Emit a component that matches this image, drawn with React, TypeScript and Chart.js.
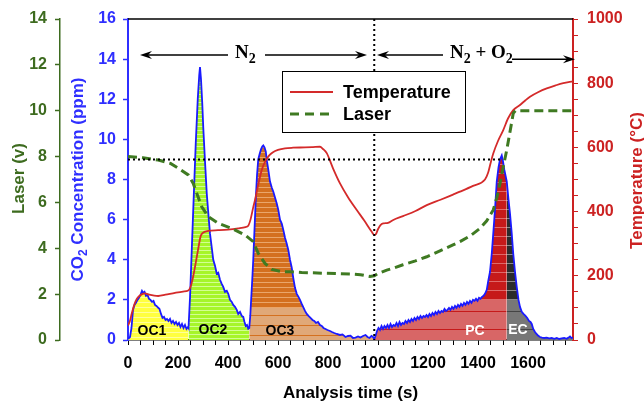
import React, { useEffect, useRef } from 'react';
import { Chart, registerables } from 'chart.js';

Chart.register(...registerables);

// ---------------- data ----------------
const co2Time = [
  0, 8, 14, 20, 26, 32, 38, 44, 50, 56, 61, 66, 72, 78, 84, 90, 96, 102, 108, 114, 120, 126, 132, 138, 144, 150, 156, 162, 168, 174, 180, 186, 192, 198, 204, 210, 216, 222, 228, 234, 240, 242,
  248, 261, 271, 279, 285, 288, 292, 297, 301, 308, 315, 322, 328, 335, 341, 348, 355, 361, 368, 375, 381, 388, 395, 401, 408, 415, 421, 428, 435, 441, 448, 455, 461, 466, 471, 476, 481, 485,
  489, 493, 497, 501, 506, 511, 516, 521, 527, 532, 537, 541, 546, 551, 556, 561, 568, 575, 581, 588, 595, 601, 608, 615, 621, 628, 635, 641, 648, 655, 661, 668, 675, 682, 688, 695, 701, 708, 715, 722, 730, 738, 745, 752, 760, 768, 775, 782, 790, 798, 808, 816, 825, 835, 848, 858, 870, 880, 890, 900, 910, 920, 930, 940, 950, 958, 966, 974, 980, 985,
  990, 996, 1002, 1008, 1014, 1020, 1026, 1032, 1038, 1044, 1050, 1056, 1062, 1068, 1074, 1080, 1086, 1092, 1098, 1104, 1110, 1116, 1122, 1128, 1134, 1140, 1146, 1152, 1158, 1164, 1170, 1176, 1182, 1188, 1194, 1200, 1206, 1212, 1218, 1224, 1230, 1236, 1242, 1248, 1254, 1260, 1266, 1272, 1278, 1284, 1290, 1296, 1302, 1308, 1314, 1320, 1326, 1332, 1338, 1344, 1350, 1356, 1362, 1368, 1374, 1380, 1386, 1392, 1398, 1404, 1410, 1416, 1422, 1428, 1435, 1441, 1448, 1455, 1461, 1468, 1475, 1482, 1488, 1495, 1500, 1505, 1510, 1515,
  1522, 1528, 1535, 1541, 1548, 1555, 1562, 1568, 1575, 1582, 1590, 1597, 1604, 1610, 1615, 1621, 1628, 1634, 1640, 1648, 1656, 1665, 1675, 1685, 1695, 1705, 1715, 1725, 1735, 1745, 1755, 1762, 1768, 1774, 1780,
];
const co2Values = [
  0.05, 0.15, 0.6, 1.5, 1.75, 1.85, 2.0, 2.1, 2.25, 2.45, 2.35, 2.4, 2.2, 2.25, 2.05, 2.0, 1.9, 1.95, 1.75, 1.7, 1.62, 1.55, 1.3, 1.1, 1.15, 1.0, 1.05, 0.95, 1.05, 0.85, 0.95, 0.8, 0.9, 0.75, 0.85, 0.65, 0.8, 0.6, 0.75, 0.55, 0.65, 0.6,
  2.1, 6.5, 9.8, 12.0, 13.2, 13.6, 13.0, 11.8, 10.6, 8.9, 7.3, 6.2, 5.3, 4.6, 4.0, 3.7, 3.3, 3.35, 3.0, 2.8, 2.65, 2.4, 2.45, 2.3, 2.0, 1.9, 1.75, 1.65, 1.5, 1.3, 1.4, 1.2, 1.15, 0.9, 0.7, 0.75, 0.56, 0.6,
  1.2, 2.1, 3.0, 4.0, 5.5, 7.0, 8.2, 9.0, 9.3, 9.5, 9.65, 9.7, 9.6, 9.4, 8.9, 8.5, 7.9, 7.6, 7.4, 7.1, 6.8, 6.5, 6.0, 5.8, 5.5, 5.1, 4.8, 4.5, 4.0, 3.6, 3.1, 2.6, 2.3, 2.15, 2.0, 1.8, 1.64, 1.45, 1.3, 1.2, 1.1, 1.0, 0.95, 0.85, 0.9, 0.75, 0.7, 0.6, 0.55, 0.5, 0.45, 0.4, 0.35, 0.3, 0.25, 0.28, 0.15, 0.2, 0.22, 0.1, 0.12, 0.18, 0.12, 0.2, 0.25, 0.15, 0.1, 0.2, 0.15, 0.05,
  0.2, 0.45, 0.6, 0.5, 0.7, 0.55, 0.7, 0.6, 0.75, 0.6, 0.8, 0.65, 0.75, 0.7, 0.85, 0.7, 0.9, 0.75, 0.85, 0.8, 0.95, 0.85, 1.0, 0.9, 1.05, 0.95, 1.1, 1.0, 1.15, 1.05, 1.2, 1.1, 1.2, 1.15, 1.25, 1.15, 1.3, 1.2, 1.35, 1.25, 1.4, 1.3, 1.45, 1.35, 1.45, 1.4, 1.55, 1.45, 1.5, 1.6, 1.5, 1.65, 1.55, 1.7, 1.6, 1.75, 1.65, 1.8, 1.7, 1.85, 1.75, 1.9, 1.8, 1.95, 1.85, 2.0, 1.95, 2.05, 1.95, 2.1, 2.05, 2.15, 2.2, 2.3, 2.5, 2.95, 3.4, 4.3, 5.3, 6.5, 7.9, 8.6, 9.0, 9.2, 8.9, 8.5, 8.2, 7.9,
  7.0, 6.3, 5.3, 4.3, 3.4, 2.65, 2.0, 1.65, 1.4, 1.3, 1.2, 1.1, 0.95, 0.9, 0.8, 0.55, 0.4, 0.3, 0.22, 0.15, 0.12, 0.1, 0.12, 0.08, 0.1, 0.06, 0.1, 0.05, 0.08, 0.1, 0.06, 0.12, 0.18, 0.1, 0.12,
];

const tempTime = [
  0, 8, 15, 25, 35, 45, 55, 68, 85, 105, 121, 150, 188, 220, 241, 250, 260, 268, 280, 290, 298, 321, 360, 400, 441, 470, 481, 490, 500, 508, 520, 535, 550, 565, 580, 600, 628, 660, 708, 740, 768, 780, 795, 820, 848, 880, 915, 945, 975, 985, 992, 1000, 1010, 1021, 1040, 1061, 1100, 1150, 1195, 1250, 1300, 1328, 1380, 1428, 1440, 1450, 1461, 1480, 1501, 1520, 1541, 1568, 1590, 1608, 1640, 1675, 1710, 1741, 1780,
];
const tempValues = [
  45, 60, 83, 110, 128, 137, 142, 145, 141, 138, 137, 141, 147, 151, 154, 165, 195, 228, 280, 322, 333, 340, 342, 344, 348, 352, 356, 375, 410, 436, 480, 530, 558, 575, 585, 592, 597, 599, 600, 601, 602, 595, 582, 535, 488, 445, 405, 372, 337, 327, 330, 345, 358, 363, 365, 374, 386, 402, 420, 437, 453, 462, 480, 500, 520, 550, 581, 620, 654, 690, 716, 732, 747, 758, 772, 784, 793, 800, 806,
];

const laserTime = [
  0, 60, 121, 170, 201, 241, 261, 275, 295, 321, 361, 415, 468, 501, 521, 548, 575, 615, 648, 695, 740, 781, 830, 888, 930, 968, 985, 1000, 1035, 1061, 1100, 1150, 1195, 1250, 1300, 1328, 1370, 1408, 1435, 1461, 1475, 1488, 1500, 1515, 1530, 1541, 1550, 1780,
];
const laserValues = [
  8.0, 7.95, 7.85, 7.7, 7.49, 7.2, 6.83, 6.4, 5.81, 5.38, 5.09, 4.87, 4.58, 4.29, 3.78, 3.34, 3.08, 2.98, 2.98, 2.94, 2.93, 2.91, 2.9, 2.88, 2.85, 2.77, 2.8, 2.9, 3.05, 3.13, 3.28, 3.45, 3.63, 3.9, 4.15, 4.29, 4.55, 4.87, 5.2, 5.67, 6.2, 6.83, 7.5, 8.29, 9.2, 9.89, 10.0, 10.0,
];

const regionNames = ['OC1', 'OC2', 'OC3', 'PC', 'EC'];
const regionBounds = [0, 242, 485, 985, 1515, 1780];
const regionUpper = ['#ffff40', '#a6f52a', '#d4701f', '#c61a1a', '#2c2c2c'];
const regionUpperStripe = ['#ffff9a', '#d2ff92', '#eaa66a', '#de6a6a', '#8a8a8a'];
const regionLower = ['#ffff40', '#a6f52a', '#e0a878', '#d86666', '#777777'];
const regionLowerStripe = ['#ffff9a', '#d2ff92', '#d4701f', '#c61a1a', '#444444'];
const regionStripePeriod = [5, 4, 5, 9, 9];
const regionSplit = [0, 0, 1.6, 2.0, 2.0];
const regionLabelX = [96, 340, 608, 1388, 1560];
const regionLabelY = [0.45, 0.5, 0.45, 0.45, 0.5];
const regionLabelColor = ['#000', '#000', '#000', '#fff', '#fff'];

const seriesLabels = ['Temperature', 'Laser', 'CO2'];
const xTitle = 'Analysis time (s)';
const laserTitle = 'Laser (v)';
const tempTitle = 'Temperature (°C)';

const refCO2Level = 9;
const refLineEnd = 1495;
const switchTime = 985;

// gas annotations (data units: x = time, y = CO2 ppm)
const arrowFrom = [400, 548, 1260, 1536];
const arrowTo = [48, 956, 996, 1788];
const arrowY = [14.2, 14.2, 14.2, 14.0];
const gasLabelX = [428, 1288];
const gasLabelY = [14.05, 14.05];
const gasLabelParts = [
  [['N', false], ['2', true]],
  [['N', false], ['2', true], [' + O', false], ['2', true]],
];

const GREEN = '#3d6b1f';
const BLUE = '#2f2fff';
const RED = '#cc2222';
const SANS = "'Liberation Sans', Arial, Helvetica, sans-serif";
const SERIF = "'Liberation Serif', 'Times New Roman', serif";

function pts(t: number[], v: number[]) {
  return t.map((x, i) => ({ x, y: v[i] }));
}

const patternCache: Record<string, CanvasPattern> = {};

function regionFill(i: number) {
  return (c: any) => {
    const chart = c.chart;
    const area = chart.chartArea;
    if (!area || !chart.scales.yCO2) return regionUpper[i];
    const ySplit = Math.round(chart.scales.yCO2.getPixelForValue(regionSplit[i]));
    const key = `${i}-${ySplit}-${chart.height}`;
    if (patternCache[key]) return patternCache[key];
    const pc = document.createElement('canvas');
    pc.width = 4;
    pc.height = chart.height;
    const g = pc.getContext('2d') as CanvasRenderingContext2D;
    const per = regionStripePeriod[i];
    for (let y = 0; y < pc.height; y++) {
      const upper = y < ySplit;
      const stripe = upper ? y % per === 2 : y % (per * 2) === 5;
      g.fillStyle = upper ? (stripe ? regionUpperStripe[i] : regionUpper[i]) : (stripe ? regionLowerStripe[i] : regionLower[i]);
      g.fillRect(0, y, 4, 1);
    }
    const p = chart.ctx.createPattern(pc, 'repeat') as CanvasPattern;
    patternCache[key] = p;
    return p;
  };
}

function drawRotated(ctx: CanvasRenderingContext2D, parts: any[], baseX: number, cy: number, color: string, size: number, subSize: number) {
  ctx.save();
  ctx.translate(baseX, cy);
  ctx.rotate(-Math.PI / 2);
  ctx.fillStyle = color;
  ctx.textBaseline = 'alphabetic';
  ctx.textAlign = 'left';
  let w = 0;
  parts.forEach(([t, sub]) => {
    ctx.font = `bold ${sub ? subSize : size}px ${SANS}`;
    w += ctx.measureText(t).width;
  });
  let x = -w / 2;
  parts.forEach(([t, sub]) => {
    ctx.font = `bold ${sub ? subSize : size}px ${SANS}`;
    ctx.fillText(t, x, sub ? 4 : 0);
    x += ctx.measureText(t).width;
  });
  ctx.restore();
}

function arrowHead(ctx: CanvasRenderingContext2D, x: number, y: number, dir: number) {
  ctx.beginPath();
  ctx.moveTo(x, y);
  ctx.lineTo(x - dir * 12, y - 4);
  ctx.lineTo(x - dir * 8, y);
  ctx.lineTo(x - dir * 12, y + 4);
  ctx.closePath();
  ctx.fill();
}

const overlay = {
  id: 'overlay',
  afterDraw(chart: any) {
    const { ctx, chartArea: a, scales } = chart;
    const xs = scales.x;
    const ys = scales.yCO2;
    ctx.save();

    // region labels
    ctx.font = `bold 14px ${SANS}`;
    ctx.textAlign = 'center';
    ctx.textBaseline = 'middle';
    regionNames.forEach((n, i) => {
      ctx.fillStyle = regionLabelColor[i];
      ctx.fillText(n, xs.getPixelForValue(regionLabelX[i]), ys.getPixelForValue(regionLabelY[i]));
    });

    // dotted guide lines
    ctx.strokeStyle = '#000';
    ctx.lineWidth = 2;
    ctx.setLineDash([2, 3]);
    ctx.beginPath();
    const yRef = ys.getPixelForValue(refCO2Level);
    ctx.moveTo(a.left, yRef);
    ctx.lineTo(xs.getPixelForValue(refLineEnd), yRef);
    const xSw = xs.getPixelForValue(switchTime);
    ctx.moveTo(xSw, a.top);
    ctx.lineTo(xSw, a.bottom);
    ctx.stroke();
    ctx.setLineDash([]);

    // top frame
    ctx.lineWidth = 1.5;
    ctx.beginPath();
    ctx.moveTo(a.left, a.top);
    ctx.lineTo(a.right, a.top);
    ctx.stroke();

    // arrows
    ctx.fillStyle = '#000';
    ctx.lineWidth = 1.5;
    arrowFrom.forEach((f, i) => {
      const x1 = xs.getPixelForValue(f);
      const x2 = xs.getPixelForValue(arrowTo[i]);
      const y = ys.getPixelForValue(arrowY[i]);
      const dir = x2 > x1 ? 1 : -1;
      ctx.beginPath();
      ctx.moveTo(x1, y);
      ctx.lineTo(x2 - dir * 8, y);
      ctx.stroke();
      arrowHead(ctx, x2, y, dir);
    });

    // gas labels
    ctx.textAlign = 'left';
    ctx.textBaseline = 'alphabetic';
    gasLabelParts.forEach((parts, i) => {
      let x = xs.getPixelForValue(gasLabelX[i]);
      const y = ys.getPixelForValue(gasLabelY[i]);
      parts.forEach(([t, sub]: any) => {
        ctx.font = `bold ${sub ? 14 : 19}px ${SERIF}`;
        ctx.fillText(t, x, sub ? y + 5 : y);
        x += ctx.measureText(t).width;
      });
    });

    // legend
    const lx = a.left + 154;
    const ly = a.top + 52;
    ctx.fillStyle = '#fff';
    ctx.fillRect(lx, ly, 183, 61);
    ctx.strokeStyle = '#000';
    ctx.lineWidth = 1;
    ctx.strokeRect(lx + 0.5, ly + 0.5, 183, 61);
    const rows = [
      { label: seriesLabels[0], color: '#d42a2a', dash: [] as number[], width: 2, y: ly + 21 },
      { label: seriesLabels[1], color: '#3f7a22', dash: [9, 6], width: 3, y: ly + 43 },
    ];
    rows.forEach((r) => {
      ctx.strokeStyle = r.color;
      ctx.lineWidth = r.width;
      ctx.setLineDash(r.dash);
      ctx.beginPath();
      ctx.moveTo(lx + 8, r.y);
      ctx.lineTo(lx + 51, r.y);
      ctx.stroke();
      ctx.setLineDash([]);
      ctx.fillStyle = '#000';
      ctx.font = `bold 18px ${SANS}`;
      ctx.textBaseline = 'middle';
      ctx.fillText(r.label, lx + 61, r.y + 1);
    });

    // vertical axis titles
    drawRotated(ctx, [[laserTitle, false]], 24, (a.top + a.bottom) / 2 - 1, GREEN, 17, 12);
    drawRotated(ctx, [['CO', false], ['2', true], [' Concentration (ppm)', false]], 83, (a.top + a.bottom) / 2, BLUE, 17, 12);
    drawRotated(ctx, [[tempTitle, false]], 642, (a.top + a.bottom) / 2 + 1, RED, 17, 12);

    ctx.restore();
  },
};

export default function App() {
  const ref = useRef<HTMLCanvasElement | null>(null);
  useEffect(() => {
    document.body.style.margin = '0';
    const canvas = ref.current;
    if (!canvas) return;

    const co2 = pts(co2Time, co2Values);
    const regionSets = regionNames.map((name, i) => ({
      label: name,
      data: co2.filter((p) => p.x >= regionBounds[i] && p.x <= regionBounds[i + 1]),
      yAxisID: 'yCO2',
      borderWidth: 0,
      borderColor: 'rgba(0,0,0,0)',
      backgroundColor: regionFill(i),
      fill: 'origin',
      pointRadius: 0,
    }));

    const chart = new Chart(canvas, {
      type: 'line',
      data: {
        datasets: [
          {
            label: seriesLabels[1],
            data: pts(laserTime, laserValues),
            yAxisID: 'yLaser',
            borderColor: '#3f7a22',
            borderWidth: 3,
            borderDash: [9, 5],
            fill: false,
            pointRadius: 0,
          },
          {
            label: seriesLabels[0],
            data: pts(tempTime, tempValues),
            yAxisID: 'yTemp',
            borderColor: '#d42a2a',
            borderWidth: 1.8,
            fill: false,
            pointRadius: 0,
            cubicInterpolationMode: 'monotone',
          },
          {
            label: seriesLabels[2],
            data: co2,
            yAxisID: 'yCO2',
            borderColor: '#1a1aff',
            borderWidth: 1.8,
            fill: false,
            pointRadius: 0,
          },
          ...regionSets,
        ] as any,
      },
      options: {
        animation: false,
        responsive: false,
        devicePixelRatio: 1,
        layout: { padding: { top: 19, left: 0, right: 0, bottom: 0 } },
        plugins: { legend: { display: false }, tooltip: { enabled: false } },
        elements: { point: { radius: 0 }, line: { tension: 0 } },
        scales: {
          x: {
            type: 'linear',
            position: 'bottom',
            min: 0,
            max: 1780,
            ticks: {
              stepSize: 50,
              autoSkip: false,
              includeBounds: false,
              maxRotation: 0,
              padding: 9,
              color: '#000',
              font: { family: SANS, size: 16, weight: 'bold' },
              callback: (v: any) => (Number(v) % 200 === 0 ? String(v) : ''),
            },
            grid: { display: true, drawOnChartArea: false, drawTicks: true, tickLength: 5, tickColor: '#000', tickWidth: 1 },
            border: { display: true, color: '#000', width: 1.5 },
            title: { display: true, text: xTitle, color: '#000', font: { family: SANS, size: 17, weight: 'bold' }, padding: { top: 0, bottom: 1 } },
            afterFit: (s: any) => { s.height = 65; },
          },
          yCO2: {
            type: 'linear',
            position: 'left',
            weight: 0,
            min: 0,
            max: 16,
            ticks: { stepSize: 2, padding: 7, color: BLUE, font: { family: SANS, size: 16, weight: 'bold' } },
            grid: { display: true, drawOnChartArea: false, drawTicks: true, tickLength: 5, tickColor: BLUE, tickWidth: 1.5 },
            border: { display: true, color: BLUE, width: 2 },
            afterFit: (s: any) => { s.width = 68; },
          },
          yLaser: {
            type: 'linear',
            position: 'left',
            weight: 1,
            min: 0,
            max: 14,
            ticks: { stepSize: 2, padding: 8, color: GREEN, font: { family: SANS, size: 16, weight: 'bold' } },
            grid: { display: true, drawOnChartArea: false, drawTicks: true, tickLength: 5, tickColor: GREEN, tickWidth: 1.5 },
            border: { display: true, color: GREEN, width: 1.5 },
            afterFit: (s: any) => { s.width = 60; },
          },
          yTemp: {
            type: 'linear',
            position: 'right',
            min: 0,
            max: 1000,
            ticks: {
              stepSize: 50,
              autoSkip: false,
              padding: 9,
              color: RED,
              font: { family: SANS, size: 16, weight: 'bold' },
              callback: (v: any) => (Number(v) % 200 === 0 ? String(v) : ''),
            },
            grid: { display: true, drawOnChartArea: false, drawTicks: true, tickLength: 5, tickColor: RED, tickWidth: 1 },
            border: { display: true, color: RED, width: 2 },
            afterFit: (s: any) => { s.width = 71; },
          },
        },
      } as any,
      plugins: [overlay],
    });
    return () => chart.destroy();
  }, []);

  return (
    <div style={{ position: 'absolute', left: 0, top: 0, width: 644, height: 405 }}>
      <canvas ref={ref} width={644} height={405} style={{ display: 'block' }} />
    </div>
  );
}
